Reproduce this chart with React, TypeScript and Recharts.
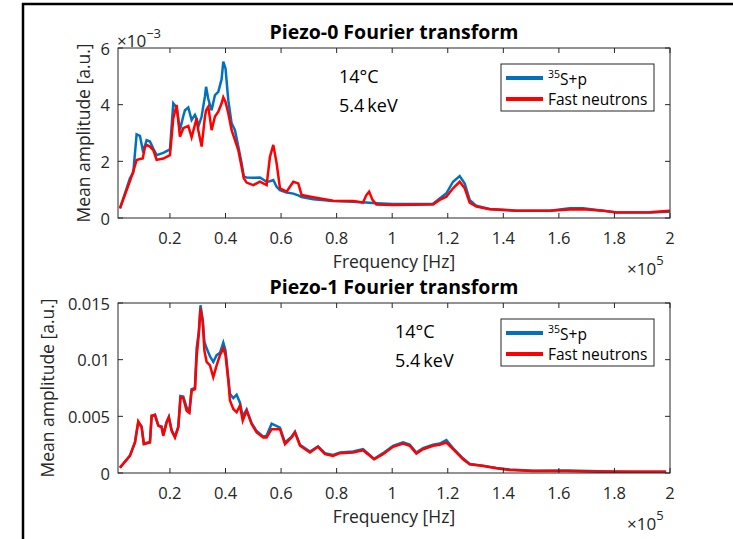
import React from 'react';
import { LineChart, Line, XAxis, YAxis } from 'recharts';

// ---------- Data (frequency in units of 1e5 Hz, amplitude in units of 1e-3 a.u.) ----------
const freqTop = [
  0.02, 0.056, 0.068, 0.08, 0.092, 0.102, 0.11, 0.116, 0.128, 0.14, 0.152, 0.176, 0.2, 0.212, 0.224,
  0.236, 0.248, 0.254, 0.266, 0.278, 0.29, 0.296, 0.302, 0.314, 0.326, 0.33, 0.338, 0.35, 0.362, 0.374,
  0.386, 0.392, 0.4, 0.41, 0.422, 0.434, 0.446, 0.458, 0.466, 0.476, 0.5, 0.524, 0.548, 0.56, 0.572,
  0.584, 0.596, 0.62, 0.644, 0.662, 0.674, 0.716, 0.787, 0.859, 0.895, 0.907, 0.917, 0.929, 0.943,
  1.003, 1.147, 1.171, 1.195, 1.219, 1.243, 1.261, 1.279, 1.303, 1.351, 1.447, 1.567, 1.639, 1.687,
  1.759, 1.807, 1.927, 1.999,
];
const s35Top = [
  0.34, 1.4, 1.6, 2.95, 2.9, 2.4, 2.55, 2.75, 2.7, 2.45, 2.22, 2.3, 2.42, 4.05, 3.9,
  3.1, 3.6, 3.8, 3.9, 3.46, 3.64, 3.5, 3.22, 3.58, 4.3, 4.63, 4.2, 3.8, 4.34, 4.45,
  4.9, 5.52, 5.28, 4.16, 3.34, 3.1, 2.52, 1.93, 1.46, 1.43, 1.42, 1.43, 1.28, 1.3, 1.34,
  1.1, 0.98, 0.9, 0.86, 0.8, 0.74, 0.66, 0.6, 0.57, 0.55, 0.55, 0.54, 0.53, 0.52,
  0.49, 0.5, 0.69, 0.87, 1.28, 1.48, 1.22, 0.64, 0.43, 0.32, 0.26, 0.26, 0.34, 0.34,
  0.26, 0.2, 0.19, 0.22,
];
const fastTop = [
  0.34, 1.3, 1.65, 2.05, 2.08, 2.1, 2.5, 2.58, 2.52, 2.4, 2.05, 2.1, 2.22, 3.52, 3.99,
  2.87, 3.17, 3.2, 3.25, 2.85, 3.3, 3.52, 3.1, 2.52, 3.58, 3.8, 3.93, 3.1, 3.58, 3.75,
  4.05, 4.26, 4.1, 3.7, 3.1, 2.75, 2.4, 1.8, 1.4, 1.25, 1.16, 1.28, 1.16, 2.16, 2.58,
  1.93, 1.05, 0.93, 1.28, 1.22, 0.81, 0.73, 0.61, 0.6, 0.55, 0.81, 0.93, 0.64, 0.48,
  0.46, 0.48, 0.64, 0.75, 1.05, 1.28, 1.05, 0.54, 0.4, 0.31, 0.26, 0.26, 0.3, 0.31,
  0.26, 0.19, 0.2, 0.26,
];

const freqBottom = [
  0.02, 0.056, 0.074, 0.086, 0.098, 0.106, 0.128, 0.134, 0.146, 0.158, 0.17, 0.176, 0.188, 0.196, 0.206,
  0.218, 0.23, 0.238, 0.248, 0.26, 0.27, 0.278, 0.29, 0.296, 0.304, 0.31, 0.318, 0.324, 0.332, 0.344,
  0.356, 0.368, 0.38, 0.392, 0.4, 0.41, 0.416, 0.428, 0.44, 0.452, 0.462, 0.476, 0.494, 0.512, 0.536,
  0.548, 0.566, 0.596, 0.614, 0.638, 0.65, 0.668, 0.704, 0.733, 0.758, 0.787, 0.812, 0.859, 0.895,
  0.935, 0.967, 1.003, 1.039, 1.063, 1.087, 1.111, 1.147, 1.171, 1.195, 1.219, 1.255, 1.279, 1.327,
  1.375, 1.423, 1.507, 1.627, 1.747, 1.867, 1.986,
];
const s35Bottom = [
  0.47, 1.55, 2.7, 4.5, 4.1, 2.6, 2.75, 5.0, 5.15, 4.2, 4.1, 3.4, 4.5, 4.95, 3.8,
  3.2, 4.1, 6.8, 6.75, 5.8, 5.5, 7.4, 7.5, 11.0, 12.5, 14.8, 13.5, 11.6, 11.0, 10.3,
  9.8, 10.4, 10.6, 11.5, 10.8, 8.4, 7.0, 6.6, 6.9, 6.2, 5.0, 5.6, 4.4, 3.7, 3.2,
  3.3, 4.35, 4.0, 2.7, 3.2, 3.65, 2.5, 1.9, 2.35, 1.75, 1.6, 1.8, 1.9, 2.1,
  1.25, 1.75, 2.4, 2.7, 2.5, 1.8, 2.2, 2.5, 2.6, 2.9, 2.2, 1.3, 0.8, 0.65,
  0.45, 0.3, 0.2, 0.22, 0.15, 0.1, 0.12,
];
const fastBottom = [
  0.47, 1.51, 2.69, 4.55, 4.02, 2.55, 2.69, 5.06, 5.1, 4.17, 4.02, 3.28, 4.46, 4.91, 3.73,
  3.13, 4.02, 6.68, 6.6, 5.5, 5.3, 7.28, 7.4, 10.2, 12.3, 14.5, 13.3, 10.8, 9.8, 9.5,
  8.46, 9.5, 10.4, 11.0, 10.4, 8.16, 6.39, 5.65, 5.36, 5.95, 4.61, 5.5, 4.32, 3.58, 3.13,
  3.13, 3.87, 3.87, 2.55, 3.13, 3.58, 2.4, 1.8, 2.31, 1.66, 1.51, 1.75, 1.8, 2.01,
  1.21, 1.66, 2.31, 2.6, 2.4, 1.72, 2.1, 2.4, 2.5, 2.69, 2.1, 1.21, 0.77, 0.62,
  0.41, 0.27, 0.18, 0.18, 0.12, 0.1, 0.1,
];

const xTicks = [0.2, 0.4, 0.6, 0.8, 1.0, 1.2, 1.4, 1.6, 1.8, 2.0];
const xTickLabels = ['0.2', '0.4', '0.6', '0.8', '1', '1.2', '1.4', '1.6', '1.8', '2'];
const yTicksTop = [0, 2, 4, 6];
const yTickLabelsTop = ['0', '2', '4', '6'];
const yTicksBottom = [0, 5, 10, 15];
const yTickLabelsBottom = ['0', '0.005', '0.01', '0.015'];
const seriesNames = ['S+p', 'Fast neutrons'];
const seriesColors = ['#0072BD', '#FF0000'];

// ---------- Layout ----------
const FONT = '"Open Sans", "Liberation Sans", Arial, sans-serif';
const TXT = '#262626';
const W = 733;
const PH = 260;
const PLOT_L = 118;
const PLOT_R = 670;
const PLOT_T = 48;
const PLOT_B = 218;
const PLOT_W = PLOT_R - PLOT_L;
const PLOT_H = PLOT_B - PLOT_T;
const YAXIS_W = 60;
const XAXIS_H = 30;
const TICK_LEN = 5;

const makeXTick = (plotH: number) => (props: any) => {
  const { x, y, payload } = props;
  const idx = xTicks.indexOf(payload.value);
  const label = idx >= 0 ? xTickLabels[idx] : String(payload.value);
  return (
    <g>
      <line x1={x} x2={x} y1={y} y2={y - TICK_LEN} stroke={TXT} strokeWidth={1} />
      <line x1={x} x2={x} y1={y - plotH} y2={y - plotH + TICK_LEN} stroke={TXT} strokeWidth={1} />
      <text x={x} y={y + 19} textAnchor="middle" dominantBaseline="central" fill={TXT} fontSize={16.5} fontFamily={FONT}>
        {label}
      </text>
    </g>
  );
};

const makeYTick = (ticks: number[], labels: string[]) => (props: any) => {
  const { x, y, payload } = props;
  const idx = ticks.indexOf(payload.value);
  const label = idx >= 0 ? labels[idx] : String(payload.value);
  return (
    <g>
      <line x1={x} x2={x + TICK_LEN} y1={y} y2={y} stroke={TXT} strokeWidth={1} />
      <line x1={x + PLOT_W} x2={x + PLOT_W - TICK_LEN} y1={y} y2={y} stroke={TXT} strokeWidth={1} />
      <text x={x - 8} y={y} textAnchor="end" dominantBaseline="central" fill={TXT} fontSize={16.5} fontFamily={FONT}>
        {label}
      </text>
    </g>
  );
};

type PanelProps = {
  top: number;
  freq: number[];
  a: number[];
  b: number[];
  yMax: number;
  yTicks: number[];
  yLabels: string[];
};

const Panel = ({ top, freq, a, b, yMax, yTicks, yLabels }: PanelProps) => {
  const data = freq.map((f, i) => ({ f, s35: a[i], fast: b[i] }));
  return (
    <div style={{ position: 'absolute', left: 0, top, width: W, height: PH }}>
      <LineChart
        width={W}
        height={PH}
        data={data}
        margin={{ top: PLOT_T, right: W - PLOT_R, left: PLOT_L - YAXIS_W, bottom: PH - PLOT_B - XAXIS_H }}
      >
        <XAxis
          dataKey="f"
          type="number"
          domain={[0.013, 2]}
          ticks={xTicks}
          allowDataOverflow
          axisLine={false}
          tickLine={false}
          tickSize={0}
          tickMargin={0}
          height={XAXIS_H}
          interval={0}
          tick={makeXTick(PLOT_H)}
        />
        <YAxis
          type="number"
          domain={[0, yMax]}
          ticks={yTicks}
          allowDataOverflow
          axisLine={false}
          tickLine={false}
          tickSize={0}
          tickMargin={0}
          width={YAXIS_W}
          interval={0}
          tick={makeYTick(yTicks, yLabels)}
        />
        <Line type="linear" dataKey="s35" stroke={seriesColors[0]} strokeWidth={2.5} dot={false} isAnimationActive={false} />
        <Line type="linear" dataKey="fast" stroke={seriesColors[1]} strokeWidth={2.5} dot={false} isAnimationActive={false} />
      </LineChart>
    </div>
  );
};

const Legend = ({ top }: { top: number }) => (
  <g>
    <rect x={501} y={top} width={153} height={47} fill="#fff" stroke={TXT} strokeWidth={1} />
    <line x1={506} x2={543} y1={top + 14} y2={top + 14} stroke={seriesColors[0]} strokeWidth={4} />
    <text x={548} y={top + 15} dominantBaseline="central" fill="#000" fontSize={15.5} fontFamily={FONT}>
      <tspan fontSize={10.5} dy={-5}>35</tspan>
      <tspan dy={5}>{seriesNames[0]}</tspan>
    </text>
    <line x1={506} x2={543} y1={top + 35} y2={top + 35} stroke={seriesColors[1]} strokeWidth={4} />
    <text x={548} y={top + 35} dominantBaseline="central" fill="#000" fontSize={15.5} fontFamily={FONT}>
      {seriesNames[1]}
    </text>
  </g>
);

const PanelText = ({ off, title, yLabelX, showExp, annX }: { off: number; title: string; yLabelX: number; showExp: boolean; annX: number }) => {
  const cx = (PLOT_L + PLOT_R) / 2;
  const cy = off + (PLOT_T + PLOT_B) / 2;
  return (
    <g fontFamily={FONT}>
      <text x={cx} y={off + 31} textAnchor="middle" dominantBaseline="central" fontWeight="bold" fontSize={19.5} fill="#000">
        {title}
      </text>
      <text
        x={yLabelX}
        y={cy}
        textAnchor="middle"
        dominantBaseline="central"
        fontSize={17.5}
        fill={TXT}
        transform={`rotate(-90 ${yLabelX} ${cy})`}
      >
        Mean amplitude [a.u.]
      </text>
      <text x={cx} y={off + PLOT_B + 43} textAnchor="middle" dominantBaseline="central" fontSize={17.5} fill={TXT}>
        Frequency [Hz]
      </text>
      <text x={627} y={off + PLOT_B + 50} dominantBaseline="central" fontSize={17} fill={TXT}>
        <tspan>×10</tspan>
        <tspan fontSize={13} dy={-8}>5</tspan>
      </text>
      {showExp && (
        <text x={117} y={off + 40} dominantBaseline="central" fontSize={17} fill={TXT}>
          <tspan>×10</tspan>
          <tspan fontSize={13} dy={-7}>−3</tspan>
        </text>
      )}
      <text x={annX} y={off + 76} dominantBaseline="central" fontSize={18} fill="#000">
        14°C
      </text>
      <text x={annX} y={off + 105} dominantBaseline="central" fontSize={18} fill="#000">
        5.4{'\u2009'}keV
      </text>
      <rect x={PLOT_L} y={off + PLOT_T} width={PLOT_W} height={PLOT_H} fill="none" stroke={TXT} strokeWidth={1} />
    </g>
  );
};

export default function App() {
  const off2 = 255;
  return (
    <div style={{ position: 'absolute', left: 0, top: 0, width: W, height: 539, background: '#fff', overflow: 'hidden' }}>
      <Panel top={0} freq={freqTop} a={s35Top} b={fastTop} yMax={6} yTicks={yTicksTop} yLabels={yTickLabelsTop} />
      <Panel top={off2} freq={freqBottom} a={s35Bottom} b={fastBottom} yMax={15} yTicks={yTicksBottom} yLabels={yTickLabelsBottom} />
      <svg width={W} height={539} style={{ position: 'absolute', left: 0, top: 0, pointerEvents: 'none' }}>
        <line x1={23} x2={23} y1={3} y2={539} stroke="#000" strokeWidth={2.5} />
        <line x1={22} x2={W} y1={4} y2={4} stroke="#000" strokeWidth={2.5} />
        <PanelText off={0} title="Piezo-0 Fourier transform" yLabelX={83} showExp={true} annX={339} />
        <PanelText off={off2} title="Piezo-1 Fourier transform" yLabelX={47} showExp={false} annX={395} />
        <Legend top={64} />
        <Legend top={off2 + 64} />
      </svg>
    </div>
  );
}
